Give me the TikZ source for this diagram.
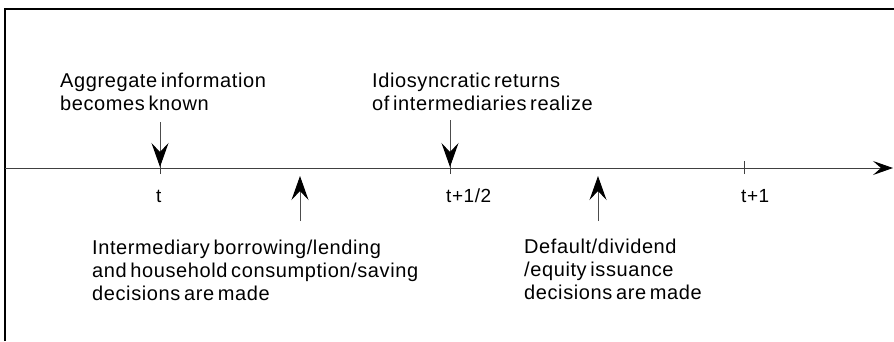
\documentclass[tikz,border=0pt]{standalone}
\usepackage{fontspec}
\usetikzlibrary{arrows.meta}
\newfontfamily\labfont[LetterSpace=3,WordSpace=0.6]{Liberation Sans}
\newcommand{\tstrut}{\rule{0pt}{0.75em}}
\begin{document}
\begin{tikzpicture}[x=1pt,y=-1pt,
  lab/.style={font=\labfont\fontsize{20}{23}\selectfont, inner sep=0pt, anchor=north west, align=left},
  ticklab/.style={font=\labfont\fontsize{19}{21}\selectfont, inner sep=0pt, anchor=base west},
  frameline/.style={line width=1.5pt, draw=black},
  axisline/.style={line width=1pt, draw=black!75, -{Stealth[length=20pt,width=14pt,inset=8pt,color=black]}},
  tickline/.style={line width=1pt, draw=black!75},
  evarrow/.style={line width=1pt, draw=black!70, -{Stealth[length=24pt,width=17pt,inset=9pt,color=black]}}
]
\useasboundingbox (0,0) rectangle (894,341);
% frame
\draw[frameline] (5,341) -- (5,9) -- (894,9);
% axis
\coordinate (axs) at (5,168);
\coordinate (axe) at (893,168);
\draw[axisline] (axs) -- (axe);
% ticks
\coordinate (tk0) at (160,168);
\coordinate (tk1) at (450,168);
\coordinate (tk2) at (744,168);
\foreach \t in {tk0,tk1,tk2} \draw[tickline] ([yshift=-6pt]\t) -- ([yshift=7pt]\t);
% tick labels
\node[ticklab] (l0) at (156,202) {t};
\node[ticklab] (l1) at (446,202) {t+1/2};
\node[ticklab] (l2) at (741,202) {t+1};
% top labels
\node[lab] (agg) at (60,72) {\tstrut Aggregate information\\becomes known};
\node[lab] (idio) at (372,72) {\tstrut Idiosyncratic returns\\of intermediaries realize};
% bottom labels
\node[lab] (borr) at (92,239) {\tstrut Intermediary borrowing/lending\\and household consumption/saving\\decisions are made};
\node[lab] (def) at (524,238.5) {\tstrut Default/dividend\\/equity issuance\\decisions are made};
% arrows
\coordinate (d0) at (160,122);
\coordinate (d1) at (450,120);
\coordinate (tip0) at (160,167);
\coordinate (tip1) at (450,167);
\draw[evarrow] (d0) -- (tip0);
\draw[evarrow] (d1) -- (tip1);
\coordinate (u0s) at (300,221);
\coordinate (u0e) at (300,176);
\coordinate (u1s) at (598,221);
\coordinate (u1e) at (598,176);
\draw[evarrow] (u0s) -- (u0e);
\draw[evarrow] (u1s) -- (u1e);
\end{tikzpicture}
\end{document}
